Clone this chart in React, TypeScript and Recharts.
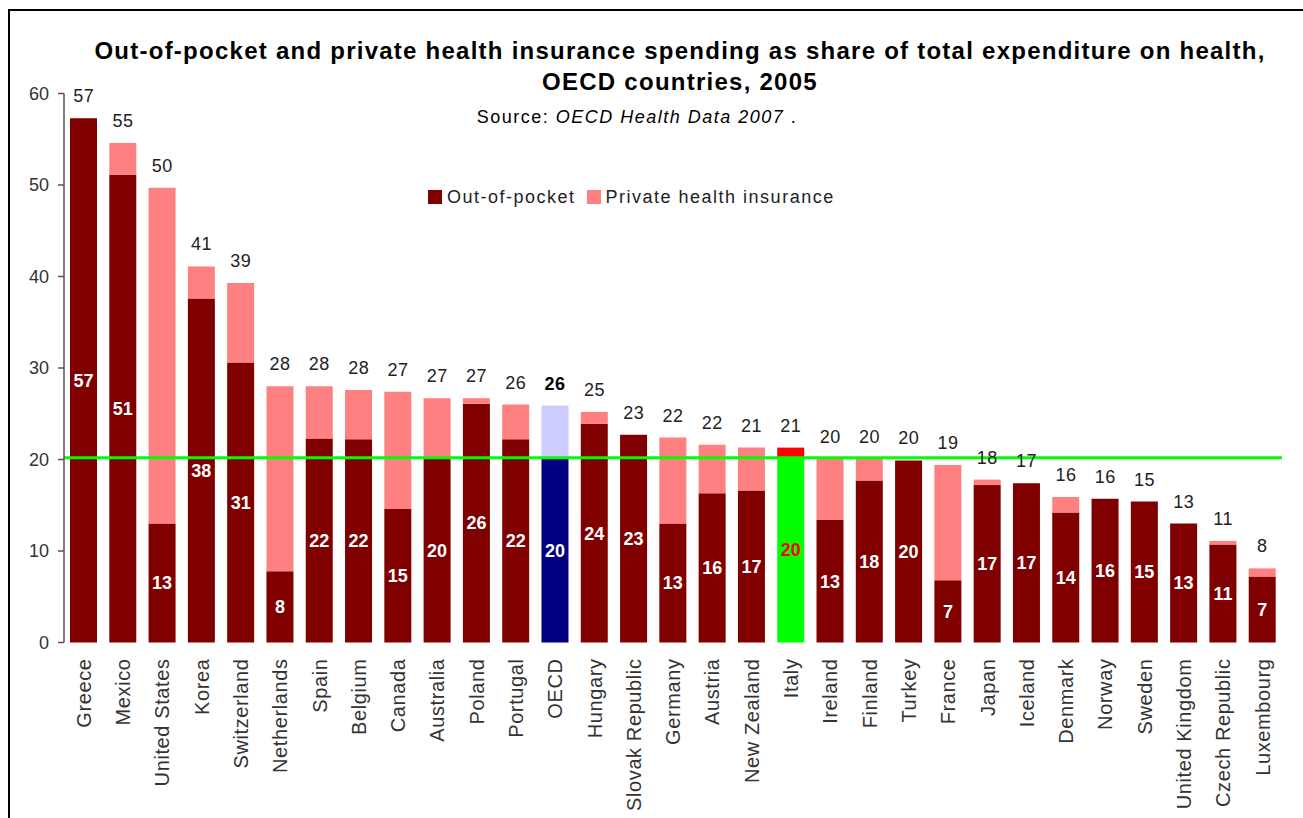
import React from 'react';
import { ComposedChart, Bar, Line, XAxis, YAxis, Cell, LabelList, ReferenceLine } from 'recharts';

const countries = [
  'Greece', 'Mexico', 'United States', 'Korea', 'Switzerland', 'Netherlands', 'Spain', 'Belgium',
  'Canada', 'Australia', 'Poland', 'Portugal', 'OECD', 'Hungary', 'Slovak Republic', 'Germany',
  'Austria', 'New Zealand', 'Italy', 'Ireland', 'Finland', 'Turkey', 'France', 'Japan', 'Iceland',
  'Denmark', 'Norway', 'Sweden', 'United Kingdom', 'Czech Republic', 'Luxembourg',
];
const outOfPocket = [
  57.3, 51.1, 13.0, 37.6, 30.6, 7.8, 22.3, 22.2,
  14.6, 20.1, 26.1, 22.2, 20.1, 23.9, 22.7, 13.0,
  16.3, 16.6, 20.2, 13.4, 17.7, 19.9, 6.8, 17.2, 17.4,
  14.2, 15.7, 15.4, 13.0, 10.7, 7.2,
];
const privateInsurance = [
  0, 3.5, 36.7, 3.5, 8.7, 20.2, 5.7, 5.4,
  12.8, 6.6, 0.6, 3.8, 5.8, 1.3, 0, 9.4,
  5.3, 4.7, 1.1, 6.7, 2.4, 0, 12.6, 0.6, 0,
  1.7, 0, 0, 0, 0.4, 0.9,
];
const yTicks = [0, 10, 20, 30, 40, 50, 60];
const seriesNames = ['Out-of-pocket', 'Private health insurance'];
const referenceLevel = 20.2;
const averageCategory = 'OECD';
const focusCategory = 'Italy';

const titleLines = [
  'Out-of-pocket and private health insurance spending as share of total expenditure on health,',
  'OECD countries, 2005',
];
const sourcePrefix = 'Source: ';
const sourceName = 'OECD Health Data 2007';
const sourceSuffix = ' .';

const data = countries.map((country, i) => ({
  country,
  oop: outOfPocket[i],
  pri: privateInsurance[i],
  total: outOfPocket[i] + privateInsurance[i],
}));

const FONT = '"Liberation Sans", Arial, Helvetica, sans-serif';

const oopColor = (c: string) => (c === averageCategory ? '#000080' : c === focusCategory ? '#00FF00' : '#800000');
const priColor = (c: string) => (c === averageCategory ? '#CCCCFF' : c === focusCategory ? '#FF0000' : '#FF8080');

const getBox = (props: any) => {
  const vb = props.viewBox || {};
  return {
    x: Number(props.x ?? vb.x ?? 0),
    y: Number(props.y ?? vb.y ?? 0),
    width: Number(props.width ?? vb.width ?? 0),
    height: Number(props.height ?? vb.height ?? 0),
  };
};

const InnerLabel = (props: any) => {
  const { x, y, width, height } = getBox(props);
  const d = data[props.index];
  if (!d) return null;
  const fill = d.country === focusCategory ? '#FF0000' : '#FFFFFF';
  return (
    <text
      x={x + width / 2}
      y={y + height / 2}
      dy={6.4}
      textAnchor="middle"
      fill={fill}
      fontSize={18}
      fontWeight="bold"
      fontFamily={FONT}
    >
      {Math.round(d.oop)}
    </text>
  );
};

const TopLabel = (props: any) => {
  const { x, y } = getBox(props);
  const d = data[props.index];
  if (!d) return null;
  const isAvg = d.country === averageCategory;
  return (
    <text
      x={x}
      y={y - 16}
      textAnchor="middle"
      fill={isAvg ? '#000000' : '#222222'}
      fontSize={18}
      fontWeight={isAvg ? 'bold' : 'normal'}
      fontFamily={FONT}
      letterSpacing={0.5}
    >
      {Math.round(d.total)}
    </text>
  );
};

const XTick = (props: any) => {
  const { x, y, payload } = props;
  return (
    <text
      transform={`translate(${x},${y}) rotate(-90)`}
      textAnchor="end"
      dy="0.36em"
      fill="#333333"
      fontSize={20}
      letterSpacing={0.6}
      fontFamily={FONT}
    >
      {payload.value}
    </text>
  );
};

export default function App() {
  return (
    <div
      style={{
        position: 'absolute',
        left: 0,
        top: 0,
        width: 1303,
        height: 818,
        background: '#ffffff',
        overflow: 'hidden',
        fontFamily: FONT,
      }}
    >
      <div
        style={{
          position: 'absolute',
          left: 8,
          top: 9,
          width: 1300,
          height: 815,
          borderTop: '2px solid #000',
          borderLeft: '2px solid #000',
          boxSizing: 'border-box',
        }}
      />
      {titleLines.map((t, i) => (
        <div
          key={i}
          style={{
            position: 'absolute',
            left: 80,
            width: 1200,
            top: 37 + i * 31,
            lineHeight: '28px',
            fontSize: 24,
            fontWeight: 'bold',
            letterSpacing: 1.25,
            textAlign: 'center',
            color: '#000',
            whiteSpace: 'nowrap',
          }}
        >
          {t}
        </div>
      ))}
      <div
        style={{
          position: 'absolute',
          left: 137,
          width: 1000,
          top: 107,
          lineHeight: '20px',
          fontSize: 18,
          letterSpacing: 1.5,
          textAlign: 'center',
          color: '#000',
          whiteSpace: 'pre',
        }}
      >
        {sourcePrefix}
        <i>{sourceName}</i>
        {sourceSuffix}
      </div>
      <div
        style={{
          position: 'absolute',
          left: 428,
          top: 186,
          height: 22,
          display: 'flex',
          alignItems: 'center',
          fontSize: 18,
          letterSpacing: 1.5,
          color: '#222',
          whiteSpace: 'nowrap',
          zIndex: 2,
        }}
      >
        <span style={{ width: 14, height: 14, background: '#800000', display: 'inline-block', marginRight: 5 }} />
        <span style={{ marginRight: 11 }}>{seriesNames[0]}</span>
        <span style={{ width: 14, height: 14, background: '#FF8080', display: 'inline-block', marginRight: 5 }} />
        <span>{seriesNames[1]}</span>
      </div>
      <div style={{ position: 'absolute', left: 0, top: 0 }}>
        <ComposedChart
          width={1303}
          height={818}
          data={data}
          margin={{ top: 93.5, right: 21, left: 0, bottom: 0 }}
          barSize={27}
        >
          <XAxis
            dataKey="country"
            interval={0}
            height={175.5}
            axisLine={false}
            tickLine={false}
            tickSize={0}
            tickMargin={16}
            tick={<XTick />}
          />
          <YAxis
            width={64}
            domain={[0, 60]}
            ticks={yTicks}
            interval={0}
            axisLine={{ stroke: '#555', strokeWidth: 1.5 }}
            tickLine={{ stroke: '#555', strokeWidth: 1.5 }}
            tickSize={6}
            tickMargin={9}
            tick={{ fill: '#333', fontSize: 18, fontFamily: FONT }}
          />
          <Bar dataKey="oop" stackId="a" isAnimationActive={false} name={seriesNames[0]}>
            {data.map((d, i) => (
              <Cell key={i} fill={oopColor(d.country)} />
            ))}
            <LabelList dataKey="oop" content={<InnerLabel />} />
          </Bar>
          <Bar dataKey="pri" stackId="a" isAnimationActive={false} name={seriesNames[1]}>
            {data.map((d, i) => (
              <Cell key={i} fill={priColor(d.country)} />
            ))}
          </Bar>
          <Line
            dataKey="total"
            stroke="none"
            dot={false}
            activeDot={false}
            legendType="none"
            isAnimationActive={false}
          >
            <LabelList dataKey="total" content={<TopLabel />} />
          </Line>
          <ReferenceLine y={referenceLevel} stroke="#00FF00" strokeWidth={3} ifOverflow="extendDomain" />
        </ComposedChart>
      </div>
    </div>
  );
}
